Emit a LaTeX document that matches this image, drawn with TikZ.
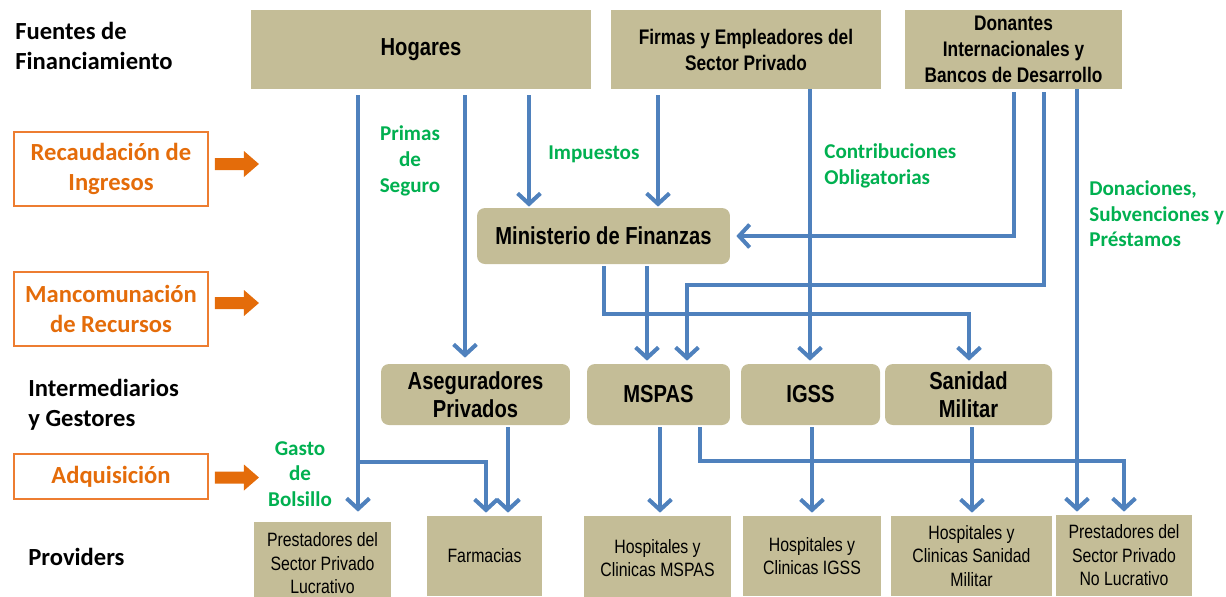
\documentclass[tikz,border=0pt]{standalone}
\usepackage{fontspec}
\setmainfont{Carlito}
\newfontfamily\narrow[FakeStretch=0.82]{Liberation Sans}
\usetikzlibrary{arrows.meta,calc}
\definecolor{tan}{HTML}{C4BD97}
\definecolor{flowblue}{HTML}{4F81BD}
\definecolor{stageorange}{HTML}{E46C0A}
\definecolor{stageborder}{HTML}{ED7D31}
\definecolor{moneygreen}{HTML}{00B050}

\begin{document}
\begin{tikzpicture}[x=0.02cm,y=-0.02cm,
  topbox/.style={fill=tan,align=center,font=\narrow\bfseries\fontsize{12}{14.8}\selectfont},
  midbox/.style={fill=tan,align=center,rounded corners=4.5pt,minimum height=1.22cm,font=\narrow\bfseries\fontsize{14}{16}\selectfont},
  provbox/.style={fill=tan,align=center,minimum height=1.6cm,font=\narrow\fontsize{11}{13.4}\selectfont},
  stage/.style={draw=stageborder,line width=1.1pt,text=stageorange,align=center,minimum width=3.88cm,font=\bfseries\fontsize{14}{17}\selectfont},
  level/.style={anchor=west,align=left,font=\bfseries\fontsize{14}{17}\selectfont},
  money/.style={text=moneygreen,font=\bfseries\fontsize{12}{14.6}\selectfont},
  flow/.style={draw=flowblue,line width=2.3pt,-{Straight Barb[length=6pt,width=13pt]},shorten >=0.06cm}]
      \tikzstyle{every node}+=[inner sep=0pt]
      \useasboundingbox (0,0) rectangle (1226,596);
      \node [level] (fuentes) at (15,46) {Fuentes de\\Financiamiento};
      \node [level] (inter) at (28,405) {Intermediarios\\y Gestores};
      \node [level] (prov) at (28,557) {Providers};
      \node [stage,minimum height=1.48cm] (rec) at (111,169) {Recaudación de\\Ingresos};
      \node [stage,minimum height=1.48cm] (man) at (111,309) {Mancomunación\\de Recursos};
      \node [stage,minimum height=0.9cm] (adq) at (111,476.5) {Adquisición};
      \foreach \s/\dy in {rec/-5,man/-6,adq/1}
        \fill [stageorange] ($(\s.east)+(6,\dy)$) ++(0,-6) -- ++(29,0) -- ++(0,-7) -- ++(15,13) -- ++(-15,13) -- ++(0,-7) -- ++(-29,0) -- cycle;
      \node [topbox,minimum width=6.8cm,minimum height=1.58cm,font=\narrow\bfseries\fontsize{14}{16}\selectfont] (hog) at (421,49.5) {Hogares};
      \node [topbox,minimum width=5.4cm,minimum height=1.58cm] (firm) at (746,49.5) {Firmas y Empleadores del\\Sector Privado};
      \node [topbox,minimum width=4.34cm,minimum height=1.58cm] (don) at (1013.5,49.5) {Donantes\\Internacionales y\\Bancos de Desarrollo};
      \node [midbox,minimum width=5.06cm,minimum height=1.12cm] (minf) at (603.5,236) {Ministerio de Finanzas};
      \node [midbox,minimum width=3.78cm] (aseg) at (475.5,394.5) {Aseguradores\\Privados};
      \node [midbox,minimum width=2.86cm] (mspas) at (658.5,394.5) {MSPAS};
      \node [midbox,minimum width=2.78cm] (igss) at (810.5,394.5) {IGSS};
      \node [midbox,minimum width=3.34cm] (sani) at (968.5,394.5) {Sanidad\\Militar};
      \node [provbox,minimum width=2.74cm,minimum height=1.66cm] (lucr) at (322.5,563.5) {Prestadores del\\Sector Privado\\Lucrativo};
      \node [provbox,minimum width=2.3cm] (farm) at (484.5,556) {Farmacias};
      \node [provbox,minimum width=2.94cm,minimum height=1.68cm] (hmsp) at (657.5,558) {Hospitales y\\Clinicas MSPAS};
      \node [provbox,minimum width=2.76cm] (higs) at (812,556) {Hospitales y\\Clinicas IGSS};
      \node [provbox,minimum width=3.22cm] (hsan) at (971.5,556) {Hospitales y\\Clinicas Sanidad\\Militar};
      \node [provbox,minimum width=2.72cm,minimum height=1.62cm] (nolu) at (1124,555.5) {Prestadores del\\Sector Privado\\No Lucrativo};
      \node [money,align=center] (primas) at (410,161) {Primas\\de\\Seguro};
      \node [money,anchor=west] (impu) at (548,154) {Impuestos};
      \node [money,anchor=west,align=left] (contrib) at (824,166) {Contribuciones\\Obligatorias};
      \node [money,anchor=west,align=left] (donac) at (1089,214) {Donaciones,\\Subvenciones y\\Préstamos};
      \node [money,align=center] (gasto) at (300,474) {Gasto\\de\\Bolsillo};
      \draw [flow,shorten >=0.2cm] ($(hog.south)+(-63,6)$) coordinate (h1) -- (h1 |- lucr.north);
      \coordinate (fk) at ($(farm.north)+(1.5,-54)$);
      \draw [flow] (h1 |- fk) -- (fk) -- (fk |- farm.north);
      \draw [flow,shorten >=0.12cm] ($(hog.south)+(44,6)$) coordinate (h2) -- (h2 |- aseg.north);
      \draw [flow,shorten >=0.02cm] ($(hog.south)+(108,6)$) coordinate (h3) -- (h3 |- minf.north);
      \draw [flow,shorten >=0.02cm] ($(firm.south)+(-88,6)$) coordinate (f1) -- (f1 |- minf.north);
      \draw [flow] ($(firm.south)+(64,0)$) coordinate (f2) -- (f2 |- igss.north);
      \draw [flow,shorten >=0.12cm] ($(don.south)+(0.5,3)$) |- (minf.east);
      \coordinate (mk) at ($(mspas.north)+(28.5,-79)$);
      \draw [flow] ($(don.south)+(30.5,3)$) |- (mk) -- (mk |- mspas.north);
      \draw [flow] ($(don.south)+(63.5,0)$) coordinate (d3) -- (d3 |- nolu.north);
      \coordinate (sk) at ($(sani.north)+(0.5,-50)$);
      \draw [flow] ($(minf.south)+(0.5,2)$) |- (sk) -- (sk |- sani.north);
      \draw [flow] ($(minf.south)+(43.5,2)$) coordinate (m2) -- (m2 |- mspas.north);
      \draw [flow] ($(aseg.south)+(32.5,2)$) coordinate (a1) -- (a1 |- farm.north);
      \draw [flow] ($(mspas.south)+(1.5,2)$) coordinate (s1) -- (s1 |- hmsp.north);
      \coordinate (nk) at ($(nolu.north)+(0,-54)$);
      \draw [flow] ($(mspas.south)+(41.5,2)$) |- (nk) -- (nolu.north);
      \draw [flow] ($(igss.south)+(1.5,2)$) coordinate (i1) -- (i1 |- higs.north);
      \draw [flow] ($(sani.south)+(3.5,2)$) coordinate (k1) -- (k1 |- hsan.north);
\end{tikzpicture}
\end{document}
